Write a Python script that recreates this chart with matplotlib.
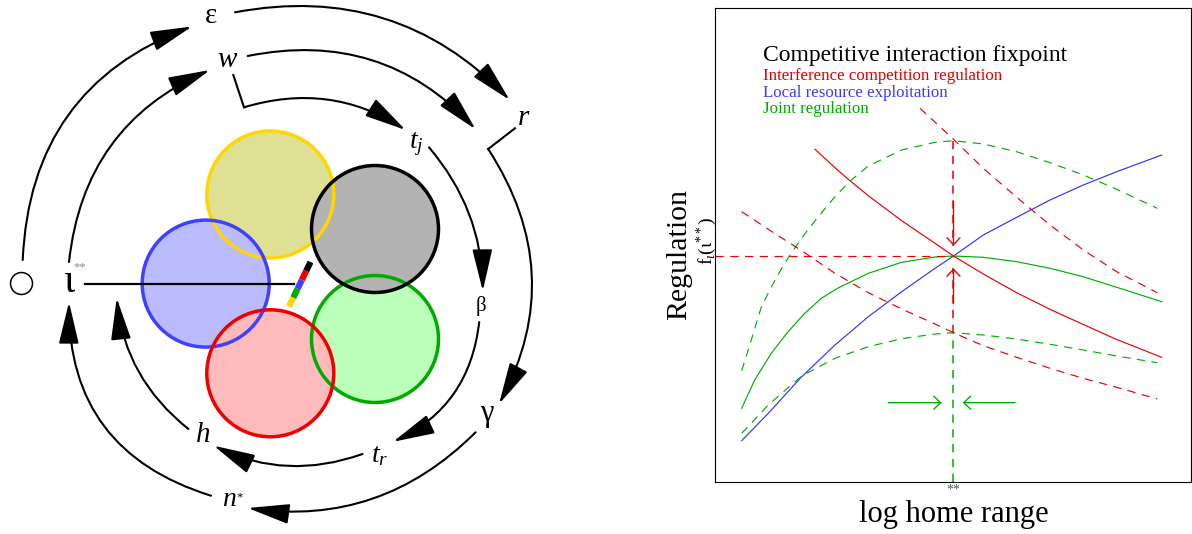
import numpy as np
import matplotlib
matplotlib.use('Agg')
import matplotlib.pyplot as plt
import matplotlib.patches as patches

plt.rcParams['font.family'] = ['Liberation Serif', 'DejaVu Serif']
plt.rcParams['mathtext.fontset'] = 'custom'
plt.rcParams['mathtext.rm'] = 'Liberation Serif'
plt.rcParams['mathtext.it'] = 'Liberation Serif:italic'
plt.rcParams['mathtext.bf'] = 'Liberation Serif:bold'

# ---------------- left diagram (pixel units) ----------------
CIRCLE_X = [270.3, 375.0, 205.7, 375.0, 270.3]
CIRCLE_Y = [194.5, 339.0, 283.6, 229.0, 373.3]
CIRCLE_R = 63.5
CIRCLE_FACE = ['#e0e094', '#bbffbb', '#bbbbff', '#b3b3b3', '#ffbbbb']
CIRCLE_EDGE = ['#ffd700', '#00aa00', '#4040ff', '#000000', '#ee0000']

# curved arrows: start, end, curvature
ARC_START = [(22.7, 260), (235, 12.3), (488.2, 149), (475.6, 432.3), (211, 495.7), (69, 262),
             (247.7, 56), (244, 107.3), (429, 147.3), (479.2, 322), (362.5, 454), (188.4, 429)]
ARC_END = [(192, 26.5), (509.7, 100), (499, 404), (247.7, 508), (69, 302), (210, 70),
           (475.6, 129.3), (405.6, 130), (482.8, 291), (393, 441.8), (213.6, 445.7), (116.7, 298)]
ARC_RAD = [0.33, 0.27, 0.295, 0.25, 0.37, 0.29, 0.28, 0.23, 0.18, 0.28, 0.21, 0.21]

# straight bracket pieces
BRACKETS = [[(233.3, 75), (244, 107.3)], [(515, 128.3), (488.2, 149)]]

LABEL_TEXT = ['ε', '$w$', '$r$', '$t_j$', 'β', 'γ', '$t_r$', '$h$', '$n$', 'ι']
LABEL_X = [211, 228, 524, 416, 481, 486.5, 380, 203, 229, 69]
LABEL_Y = [23, 66.7, 125, 148.3, 311, 421.4, 462.3, 442.3, 505.7, 291.7]
LABEL_SIZE = [21, 21, 21, 20, 15, 22, 20, 21, 20, 30]

STRIP_COLORS = ['#ffd700', '#00aa00', '#4040ff', '#ee0000', '#000000']

# ---------------- right plot data ----------------
X_BLUE = [26.7, 53.3, 86.7, 120, 153.3, 186.7, 220, 238.5, 268.3, 301.7, 335, 368.3, 401.7, 446.7]
BLUE_Y = [41.3, 68.7, 105.3, 137, 165.3, 190.3, 213.7, 226, 247, 264.7, 282, 297, 310.3, 327]
X_GREEN = [26.7, 39.7, 56.3, 73, 89.7, 106.3, 123, 153.3, 186.7, 220, 238.5, 268.3, 301.7, 335, 368.3, 401.7, 446.7]
GREEN_Y = [73.7, 102, 128.7, 150.3, 168.7, 183.7, 194, 208.7, 219.7, 225, 226, 224.7, 220.3, 213.7, 205.3, 194.7, 180.3]
X_RED = [100, 120, 133.3, 153.3, 186.7, 220, 238.5, 268.3, 301.7, 335, 368.3, 401.7, 446.7]
RED_Y = [332.7, 314.3, 302.7, 286.3, 261.3, 238.7, 226, 208, 189.3, 172.7, 157.5, 142.5, 124.7]

X_GREEN_UP = [26.7, 36.3, 46.3, 56.3, 66.3, 76.3, 89.7, 103, 119.7, 136.3, 153.3, 186.7, 220, 238.5,
              268.3, 301.7, 335, 368.3, 401.7, 442.3]
GREEN_UP_Y = [111.3, 142, 175, 195, 213, 229, 248, 265, 285, 302, 316, 332, 339.7, 341.3,
              338, 330.3, 319.3, 307, 292.7, 273.7]
X_DASH = [26.7, 53.3, 86.7, 120, 153.3, 186.7, 220, 238.5, 268.3, 301.7, 335, 368.3, 401.7, 442.3]
GREEN_LO_Y = [48.7, 77, 106, 123.7, 135.3, 143.3, 148, 149.3, 147, 143, 137.7, 132, 126, 119.3]
RED_LO_Y = [270.3, 252.7, 231.3, 208.7, 189.3, 173, 158, 149.3, 136.3, 124.7, 113.7, 103.7, 94.7, 83]
X_RED_UP = [205, 238.5, 268.3, 301.7, 335, 368.3, 401.7, 442.3]
RED_UP_Y = [373.7, 342.7, 313.7, 284.7, 257, 232, 210.3, 189.3]

FIX_X = 238.5
FIX_Y = 226
TOP_Y = 341.3     # upper joint curve at the fixpoint
LOW_Y = 149.3     # lower joint curve at the fixpoint

RED = '#ee0000'
BLUE = '#3333ff'
GREEN = '#00b000'

fig = plt.figure(figsize=(11.92, 5.34), dpi=100)

# ================= left =================
ax1 = fig.add_axes([0, 0, 560 / 1192, 1])
ax1.set_xlim(0, 560)
ax1.set_ylim(534, 0)
ax1.axis('off')

# fills first, then edges
for i in range(5):
    ax1.add_patch(patches.Circle((CIRCLE_X[i], CIRCLE_Y[i]), CIRCLE_R, fc=CIRCLE_FACE[i], ec='none', zorder=1))
for i in range(5):
    ax1.add_patch(patches.Circle((CIRCLE_X[i], CIRCLE_Y[i]), CIRCLE_R, fill=False, ec=CIRCLE_EDGE[i], lw=2.5, zorder=2))

ax1.plot([85, 294], [283.6, 283.6], color='k', lw=1.6, zorder=3)

# colour strip
sx = np.linspace(289, 310.5, 6)
sy = np.linspace(306.5, 262, 6)
for i in range(5):
    ax1.plot(sx[i:i + 2], sy[i:i + 2], color=STRIP_COLORS[i], lw=4.5, solid_capstyle='butt', zorder=4)

for i in range(len(ARC_RAD)):
    a = patches.FancyArrowPatch(ARC_START[i], ARC_END[i], connectionstyle='arc3,rad=%f' % (-ARC_RAD[i]),
                                arrowstyle='-|>,head_length=2.6,head_width=0.62', mutation_scale=10,
                                lw=1.5, color='k', shrinkA=0, shrinkB=0, zorder=3)
    ax1.add_patch(a)
for b in BRACKETS:
    ax1.plot([b[0][0], b[1][0]], [b[0][1], b[1][1]], color='k', lw=1.5)

for i in range(len(LABEL_TEXT)):
    ax1.text(LABEL_X[i], LABEL_Y[i], LABEL_TEXT[i], fontsize=LABEL_SIZE[i], ha='center', va='baseline')
ax1.text(73, 270, '**', fontsize=9, color='#888888', ha='left', va='baseline')
ax1.text(236, 500, '*', fontsize=9, color='k', ha='left', va='baseline')
ax1.plot([20.8], [282.7], marker='o', ms=15.8, mfc='none', mec='k', mew=1.1)

# ================= right =================
ax2 = fig.add_axes([715 / 1192, 52 / 534, 476 / 1192, 474 / 534])
ax2.set_xlim(0, 476)
ax2.set_ylim(0, 474)
ax2.set_xticks([])
ax2.set_yticks([])
for s in ax2.spines.values():
    s.set_linewidth(0.8)

DASH = (7, 5.5)
LW = 0.85
ax2.plot(X_BLUE, BLUE_Y, color=BLUE, lw=LW)
ax2.plot(X_GREEN, GREEN_Y, color=GREEN, lw=LW)
ax2.plot(X_RED, RED_Y, color=RED, lw=LW)
ax2.plot(X_GREEN_UP, GREEN_UP_Y, color=GREEN, lw=LW, dashes=DASH)
ax2.plot(X_DASH, GREEN_LO_Y, color=GREEN, lw=LW, dashes=DASH)
ax2.plot(X_DASH, RED_LO_Y, color=RED, lw=LW, dashes=DASH)
ax2.plot(X_RED_UP, RED_UP_Y, color=RED, lw=LW, dashes=DASH)

# guide lines at the fixpoint
VLW = 1.1
ax2.plot([0, FIX_X], [FIX_Y, FIX_Y], color=RED, lw=LW, dashes=DASH)
ax2.plot([FIX_X, FIX_X], [0, LOW_Y], color=GREEN, lw=VLW, dashes=(5.4, 4.3))
ax2.plot([FIX_X, FIX_X], [TOP_Y, 236.3], color=RED, lw=VLW, dashes=(5.4, 4.3))
ax2.plot([FIX_X, FIX_X], [LOW_Y, 213.7], color=RED, lw=VLW, dashes=(5.4, 4.3))

ARROW = '->,head_length=0.5,head_width=0.47'
for p0, p1, c in [((FIX_X, 280.6), (FIX_X, 236.3), RED), ((FIX_X, 178.2), (FIX_X, 213.7), RED),
                  ((173.3, 79.3), (226.7, 79.3), GREEN), ((300, 79.3), (247.7, 79.3), GREEN)]:
    ax2.add_patch(patches.FancyArrowPatch(p0, p1, arrowstyle=ARROW, mutation_scale=10,
                                          color=c, lw=1.0, shrinkA=0, shrinkB=0))

ax2.text(48.4, 420.6, 'Competitive interaction fixpoint', fontsize=17, color='k', va='baseline')
ax2.text(48.4, 402.5, 'Interference competition regulation', fontsize=12.2, color='#dd0000', va='baseline')
ax2.text(48.4, 384.7, 'Local resource exploitation', fontsize=12.2, color='#3a3aff', va='baseline')
ax2.text(48.4, 369.4, 'Joint regulation', fontsize=12.2, color='#00aa00', va='baseline')

ax2.text(-35.4, 227, 'Regulation', fontsize=21.5, rotation=90, ha='center', va='center', clip_on=False)
ax2.text(-8, 241, r'f$_{ι}$(ι$^{**}$)', fontsize=14, rotation=90, ha='center', va='center', clip_on=False)
ax2.text(FIX_X, -12, '**', fontsize=10, color='#555555', ha='center', va='baseline', clip_on=False)
ax2.text(FIX_X, -40, 'log home range', fontsize=22, ha='center', va='baseline', clip_on=False)

fig.savefig('out.png', dpi=100)
